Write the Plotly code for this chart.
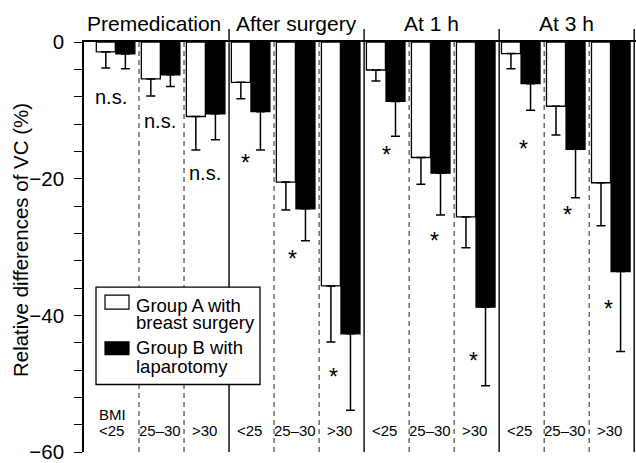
import numpy as np
import plotly.graph_objects as go

# ---- data ----
phases = ["Premedication", "After surgery", "At 1 h", "At 3 h"]
bmi_labels = ["<25", "25\u201330", ">30"]
groupA_mean = [-1.45, -5.4, -10.9, -5.9, -20.5, -35.7, -4.1, -16.9, -25.6, -1.7, -9.4, -20.6]
groupA_sd = [2.35, 2.5, 4.9, 2.4, 4.1, 8.2, 1.6, 3.9, 4.5, 2.2, 4.2, 6.3]
groupB_mean = [-1.75, -4.8, -10.5, -10.2, -24.4, -42.7, -8.7, -19.2, -38.8, -6.1, -15.7, -33.6]
groupB_sd = [2.15, 1.7, 3.8, 5.6, 4.7, 11.2, 5.1, 6.1, 11.5, 3.9, 7.1, 11.7]
ns_slots = [0, 1, 2]
ns_y = [-8.0, -11.6, -19.2]
star_slots = [3, 4, 5, 6, 7, 8, 9, 10, 11]
star_dx = [0.36, 0.42, 0.33, 0.49, 0.57, 0.42, 0.53, 0.51, 0.44]
star_y = [-17.1, -31.1, -48.4, -16.0, -28.5, -46.1, -15.0, -24.7, -38.5]

# ---- layout constants ----
W, H = 636, 463
ML, MT, MB = 84, 42, 8
X_LO, X_HI = -0.222, 12.04
PXU = (W - ML) / (X_HI - X_LO)
Y_LO, Y_HI = -60, 0
PH = H - MT - MB
PYU = PH / (Y_HI - Y_LO)
FONT = "Liberation Sans, Arial, Helvetica, sans-serif"


def px2x(px):
    return X_LO + (px - ML) / PXU


def px2y(py):
    return Y_HI - (py - MT) / PYU


def px2py(py):
    return 1 - (py - MT) / PH


n = len(groupA_mean)
xpos = np.arange(n) + 0.48

fig = go.Figure()
fig.add_trace(go.Bar(
    x=xpos, y=groupA_mean, name="Group A",
    marker=dict(color="white", line=dict(color="black", width=1.3)),
    error_y=dict(type="data", symmetric=False, array=[0] * n, arrayminus=groupA_sd,
                 color="black", thickness=1.5, width=4.5),
    showlegend=False, hoverinfo="skip"))
fig.add_trace(go.Bar(
    x=xpos, y=groupB_mean, name="Group B",
    marker=dict(color="black", line=dict(color="black", width=1.3)),
    error_y=dict(type="data", symmetric=False, array=[0] * n, arrayminus=groupB_sd,
                 color="black", thickness=1.5, width=4.5),
    showlegend=False, hoverinfo="skip"))

shapes = []
# dashed separators
for k in range(1, 12):
    if k % 3 == 0:
        continue
    shapes.append(dict(type="line", xref="x", yref="y", x0=k, x1=k, y0=0, y1=-60,
                       line=dict(color="#222222", width=1, dash="5px,4px"), layer="below"))
# solid group separators (extend above axis)
for k in (3, 6, 9, 12):
    shapes.append(dict(type="line", xref="x", yref="paper", x0=k, x1=k, y0=0, y1=px2py(29),
                       line=dict(color="black", width=1.4), layer="above"))
# legend box
shapes.append(dict(type="rect", xref="x", yref="y", x0=px2x(96), x1=px2x(260),
                   y0=px2y(289), y1=px2y(387), fillcolor="white",
                   line=dict(color="black", width=1.3), layer="above"))
shapes.append(dict(type="rect", xref="x", yref="y", x0=px2x(105), x1=px2x(129),
                   y0=px2y(297), y1=px2y(311), fillcolor="white",
                   line=dict(color="black", width=1.2), layer="above"))
shapes.append(dict(type="rect", xref="x", yref="y", x0=px2x(105), x1=px2x(129),
                   y0=px2y(344), y1=px2y(357), fillcolor="black",
                   line=dict(color="black", width=1.2), layer="above"))

ann = []
# phase titles
title_x = [px2x(154), 4.5, 7.5, 10.5]
for t, xx in zip(phases, title_x):
    ann.append(dict(x=xx, y=px2py(23), xref="x", yref="paper", text=t, showarrow=False,
                    font=dict(size=21, family=FONT, color="black"), xanchor="center", yanchor="middle"))
# BMI labels
for i in range(n):
    dx = 0.38 if i == 0 else 0.46
    ann.append(dict(x=i + dx, y=px2y(433.5), xref="x", yref="y", text=bmi_labels[i % 3],
                    showarrow=False, font=dict(size=15, family=FONT, color="black"),
                    xanchor="center", yanchor="middle"))
ann.append(dict(x=0.41, y=px2y(417.5), xref="x", yref="y", text="BMI", showarrow=False,
                font=dict(size=15, family=FONT, color="black"), xanchor="center", yanchor="middle"))
# n.s.
ns_dx = [0.38, 0.47, 0.47]
for s, yy, dx in zip(ns_slots, ns_y, ns_dx):
    ann.append(dict(x=s + dx, y=yy, xref="x", yref="y", text="n.s.", showarrow=False,
                    font=dict(size=20, family=FONT, color="black"), xanchor="center", yanchor="middle"))
# asterisks
for s, dx, yy in zip(star_slots, star_dx, star_y):
    ann.append(dict(x=s + dx, y=yy - 0.6, xref="x", yref="y", text="*", showarrow=False,
                    font=dict(size=23, family=FONT, color="black"), xanchor="center", yanchor="middle"))
# legend text
for txt, py in [("Group A with", 307), ("breast surgery", 325), ("Group B with", 350), ("laparotomy", 369)]:
    ann.append(dict(x=px2x(134), y=px2y(py), xref="x", yref="y", text=txt, showarrow=False,
                    font=dict(size=18.5, family=FONT, color="black"), xanchor="left", yanchor="middle"))
# y-axis title
ann.append(dict(x=(20 - ML) / (W - ML), y=px2y(241.5), xref="paper", yref="y",
                text="Relative differences of VC (%)", textangle=-90, showarrow=False,
                font=dict(size=20.5, family=FONT, color="black"), xanchor="center", yanchor="middle"))

fig.update_layout(
    width=W, height=H,
    margin=dict(l=ML, r=0, t=MT, b=MB, pad=0),
    plot_bgcolor="white", paper_bgcolor="white",
    barmode="group", bargap=0.13, bargroupgap=0.03,
    shapes=shapes, annotations=ann,
    font=dict(family=FONT, color="black"),
    xaxis=dict(range=[X_LO, X_HI], side="top", showline=True, linecolor="black", linewidth=1.5,
               showticklabels=False, ticks="", showgrid=False, zeroline=False, fixedrange=True),
    yaxis=dict(range=[Y_LO, Y_HI], showline=True, linecolor="black", linewidth=1.5,
               tickmode="array", tickvals=[0, -20, -40, -60], ticks="outside", ticklen=8,
               tickwidth=1.3, tickcolor="black", tickfont=dict(size=20.5, family=FONT, color="black"),
               minor=dict(tickmode="linear", tick0=0, dtick=4, ticks="outside", ticklen=8,
                          tickwidth=1.3, tickcolor="black"),
               ticklabeloverflow="allow",
               showgrid=False, zeroline=False, ticklabelstandoff=6, fixedrange=True),
)

fig.write_html("out.html", config={"displayModeBar": False},
               post_script="document.body.style.margin='0';document.body.style.padding='0';")
